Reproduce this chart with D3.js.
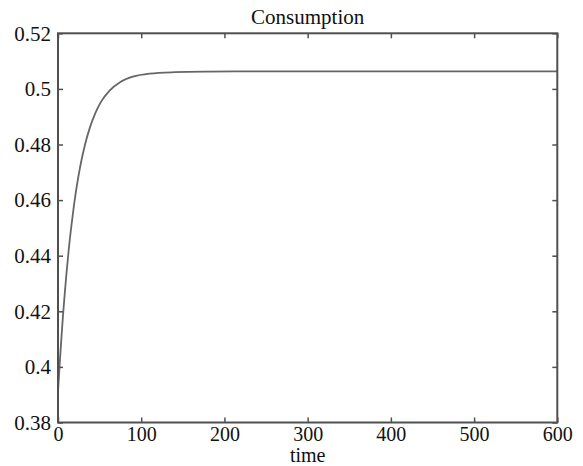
<!DOCTYPE html>
<html>
<head>
<meta charset="utf-8">
<script src="https://cdn.jsdelivr.net/npm/d3@7"></script>
<style>
  html, body { margin: 0; padding: 0; background: #fff; }
  svg { display: block; }
  text { font-family: "Liberation Serif", "Times New Roman", serif; fill: #111; }
</style>
</head>
<body>
<svg id="chart" width="583" height="466"></svg>
<script>
// Data
const times  = [0, 2, 4, 6, 8, 10, 13, 16, 19, 23, 27, 32, 38, 45, 52, 62, 75, 90, 110, 140, 180, 250, 350, 450, 600];
const values = [0.391, 0.401, 0.410, 0.4185, 0.426, 0.433, 0.4425, 0.4505, 0.4577, 0.4658, 0.4726, 0.4794, 0.4858, 0.4914, 0.4955, 0.4994, 0.5025, 0.5044, 0.5055, 0.5060, 0.5062, 0.5063, 0.5063, 0.5063, 0.5063];
const xTicks = [0, 100, 200, 300, 400, 500, 600];
const yTicks = [0.38, 0.40, 0.42, 0.44, 0.46, 0.48, 0.50, 0.52];
const yTickLabels = ["0.38", "0.4", "0.42", "0.44", "0.46", "0.48", "0.5", "0.52"];
const titleText = "Consumption";
const xLabel = "time";

const pLeft = 58, pRight = 557.3, pTop = 33.3, pBottom = 422.5;
const fontFam = "'Liberation Serif', 'Times New Roman', serif";
const svg = d3.select("#chart");

const x = d3.scaleLinear().domain([0, 600]).range([pLeft, pRight]);
const y = d3.scaleLinear().domain([0.38, 0.52]).range([pBottom, pTop]);

const axisColor = "#505050";
const tickLen = 5;

// curve
const line = d3.line()
  .x((d, i) => x(times[i]))
  .y((d, i) => y(values[i]))
  .curve(d3.curveMonotoneX);

svg.append("path")
  .datum(values)
  .attr("d", line)
  .attr("fill", "none")
  .attr("stroke", "#666")
  .attr("stroke-width", 1.8);

// frame
svg.append("rect")
  .attr("x", pLeft).attr("y", pTop)
  .attr("width", pRight - pLeft).attr("height", pBottom - pTop)
  .attr("fill", "none")
  .attr("stroke", axisColor)
  .attr("stroke-width", 2);

// bottom axis (ticks inward, labels below)
const xAxisB = d3.axisBottom(x).tickValues(xTicks).tickSizeInner(-tickLen).tickSizeOuter(0).tickPadding(5).tickFormat(d3.format("d"));
const gB = svg.append("g").attr("transform", `translate(0,${pBottom})`).call(xAxisB)
  .attr("font-family", fontFam).attr("font-size", 20);
gB.select(".domain").remove();
gB.selectAll("line").attr("stroke", axisColor).attr("stroke-width", 1.5);
gB.selectAll("text").attr("fill", "#111").attr("dy", "0.68em");

// top axis ticks
const xAxisT = d3.axisTop(x).tickValues(xTicks).tickSizeInner(-tickLen).tickSizeOuter(0).tickFormat("");
const gT = svg.append("g").attr("transform", `translate(0,${pTop})`).call(xAxisT);
gT.select(".domain").remove();
gT.selectAll("line").attr("stroke", axisColor).attr("stroke-width", 1.5);

// left axis
const yAxisL = d3.axisLeft(y).tickValues(yTicks).tickSizeInner(-tickLen).tickSizeOuter(0).tickPadding(7)
  .tickFormat((d, i) => yTickLabels[i]);
const gL = svg.append("g").attr("transform", `translate(${pLeft},0)`).call(yAxisL)
  .attr("font-family", fontFam).attr("font-size", 21);
gL.select(".domain").remove();
gL.selectAll("line").attr("stroke", axisColor).attr("stroke-width", 1.5);
gL.selectAll("text").attr("fill", "#111");

// right axis ticks
const yAxisR = d3.axisRight(y).tickValues(yTicks).tickSizeInner(-tickLen).tickSizeOuter(0).tickFormat("");
const gR = svg.append("g").attr("transform", `translate(${pRight},0)`).call(yAxisR);
gR.select(".domain").remove();
gR.selectAll("line").attr("stroke", axisColor).attr("stroke-width", 1.5);

// title
svg.append("text")
  .attr("x", (pLeft + pRight) / 2).attr("y", 24)
  .attr("text-anchor", "middle")
  .attr("font-family", fontFam)
  .attr("font-size", 21)
  .text(titleText);

// x label
svg.append("text")
  .attr("x", (pLeft + pRight) / 2).attr("y", 461.5)
  .attr("text-anchor", "middle")
  .attr("font-family", fontFam)
  .attr("font-size", 20)
  .text(xLabel);
</script>
</body>
</html>
